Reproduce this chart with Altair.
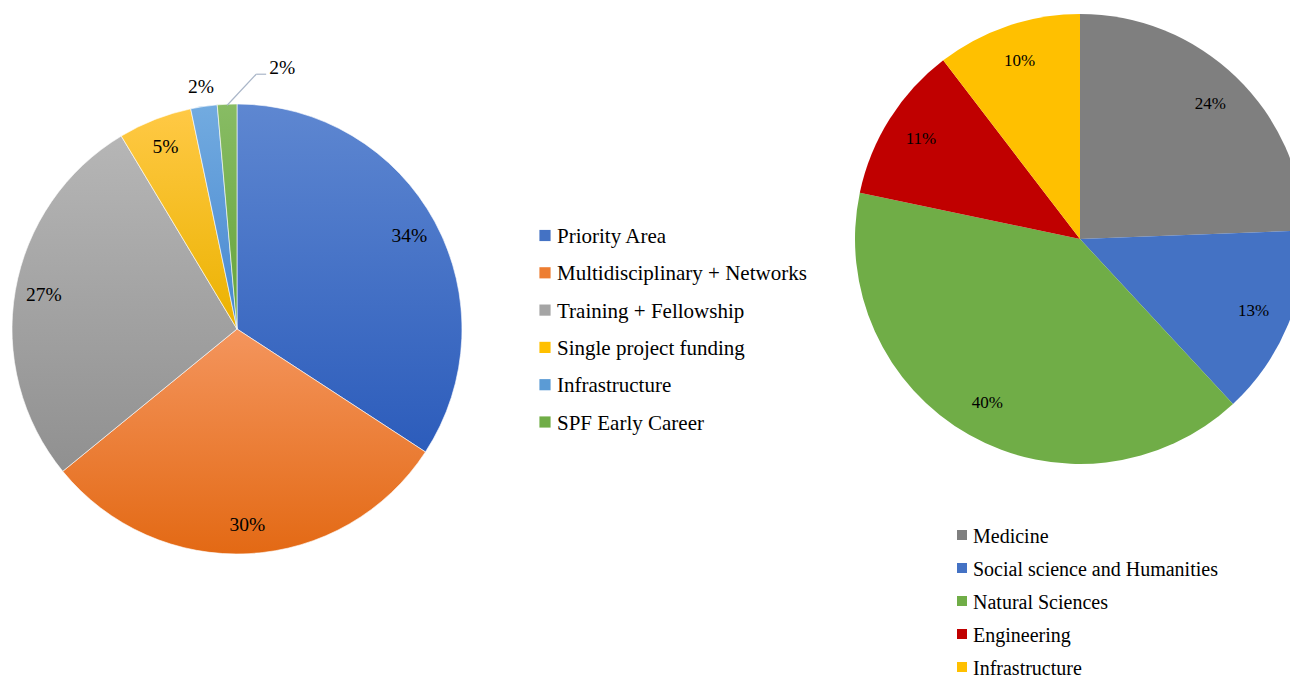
import math
import altair as alt
import pandas as pd

# ---------------- data ----------------
left_cats = ["Priority Area", "Multidisciplinary + Networks", "Training + Fellowship",
             "Single project funding", "Infrastructure", "SPF Early Career"]
left_vals = [34.2, 29.9, 27.3, 5.3, 1.9, 1.4]
left_labels = ["34%", "30%", "27%", "5%", "2%", "2%"]

right_cats = ["Medicine", "Social science and Humanities", "Natural Sciences",
              "Engineering", "Infrastructure"]
right_vals = [24.4, 13.7, 40.2, 11.3, 10.4]
right_labels = ["24%", "13%", "40%", "11%", "10%"]

# ---------------- styles ----------------
left_top = ["#5e87d1", "#f4955d", "#b6b6b6", "#ffc945", "#72abe0", "#88bc64"]
left_bot = ["#2c5cbb", "#e36914", "#909090", "#ebb200", "#4787d0", "#64a33a"]
left_flat = ["#4472c4", "#ed7d31", "#a5a5a5", "#ffc000", "#5b9bd5", "#70ad47"]
right_colors = ["#7f7f7f", "#4472c4", "#70ad47", "#c00000", "#ffc000"]

FONT = "Liberation Serif, Times New Roman, DejaVu Serif, serif"
LCX, LCY = 229, 321
RCX, RCY = 1072, 231
R = 225

left_df = pd.DataFrame({"cat": left_cats, "val": left_vals, "lab": left_labels,
                        "col": left_flat})
right_df = pd.DataFrame({"cat": right_cats, "val": right_vals, "lab": right_labels,
                         "col": right_colors})

theta_scale = alt.Scale(domain=[0, 100], range=[0, 2 * math.pi])


def base(df):
    return (alt.Chart(df)
            .transform_window(end="sum(val)", idx="row_number()", frame=[None, 0])
            .transform_calculate(start="datum.end - datum.val",
                                 mid="datum.end - datum.val / 2"))


bl = base(left_df)
br = base(right_df)

layers = []

# left pie: one layer per slice with a vertical gradient
for cat, top, bot in zip(left_cats, left_top, left_bot):
    grad = alt.Gradient(gradient="linear",
                        stops=[alt.GradientStop(color=top, offset=0),
                               alt.GradientStop(color=bot, offset=1)],
                        x1=0, x2=0, y1=0, y2=1)
    layers.append(
        bl.transform_filter(alt.datum.cat == cat)
        .mark_arc(outerRadius=R, color=grad, stroke="#ffffff", strokeWidth=0.6)
        .encode(theta=alt.Theta("start:Q", stack=None, scale=theta_scale),
                theta2="end:Q", x=alt.value(LCX), y=alt.value(LCY))
    )

# left labels inside
layers.append(
    bl.transform_filter("datum.val >= 3")
    .mark_text(radius=196, font=FONT, fontSize=19.5, color="#000000",
               align="center", baseline="middle")
    .encode(theta=alt.Theta("mid:Q", stack=None, scale=theta_scale),
            text="lab:N", x=alt.value(LCX), y=alt.value(LCY))
)
# Infrastructure label outside
layers.append(
    bl.transform_filter(alt.datum.cat == "Infrastructure")
    .mark_text(radius=245, font=FONT, fontSize=19.5, color="#000000",
               align="center", baseline="middle")
    .encode(theta=alt.Theta("mid:Q", stack=None, scale=theta_scale),
            text="lab:N", x=alt.value(LCX), y=alt.value(LCY))
)
# SPF label with leader line
spf = (bl.transform_filter(alt.datum.cat == "SPF Early Career")
       .transform_calculate(
           a="datum.mid / 100 * 2 * PI",
           ax=f"{LCX} + {R - 1} * sin(datum.a)",
           ay=f"{LCY} - {R - 1} * cos(datum.a)",
           ex="datum.ax + 29",
           ey="datum.ay - 31",
           hx="datum.ex + 10",
           tx="datum.hx + 3",
           ty="datum.ey - 6"))
layers.append(
    spf.mark_rule(color="#aab6c8", strokeWidth=1.2)
    .encode(x=alt.X("ax:Q", scale=None), y=alt.Y("ay:Q", scale=None),
            x2="ex:Q", y2="ey:Q")
)
layers.append(
    spf.mark_rule(color="#aab6c8", strokeWidth=1.2)
    .encode(x=alt.X("ex:Q", scale=None), y=alt.Y("ey:Q", scale=None),
            x2="hx:Q", y2="ey:Q")
)
layers.append(
    spf.mark_text(font=FONT, fontSize=19.5, color="#000000", align="left",
                  baseline="middle")
    .encode(x=alt.X("tx:Q", scale=None), y=alt.Y("ty:Q", scale=None), text="lab:N")
)

# right pie
layers.append(
    br.mark_arc(outerRadius=R, clip=True)
    .encode(theta=alt.Theta("start:Q", stack=None, scale=theta_scale),
            theta2="end:Q", color=alt.Color("col:N", scale=None),
            x=alt.value(RCX), y=alt.value(RCY))
)
layers.append(
    br.mark_text(radius=188, font=FONT, fontSize=17, color="#000000",
                 align="center", baseline="middle")
    .encode(theta=alt.Theta("mid:Q", stack=None, scale=theta_scale),
            text="lab:N", x=alt.value(RCX), y=alt.value(RCY))
)

# left legend
lleg = bl.transform_calculate(ly="227.5 + (datum.idx - 1) * 37.3")
layers.append(
    lleg.mark_square(size=125, opacity=1)
    .encode(x=alt.value(537), y=alt.Y("ly:Q", scale=None),
            color=alt.Color("col:N", scale=None))
)
layers.append(
    lleg.mark_text(font=FONT, fontSize=21, color="#000000", align="left",
                   baseline="middle", dy=1.5)
    .encode(x=alt.value(549), y=alt.Y("ly:Q", scale=None), text="cat:N")
)

# right legend
rleg = br.transform_calculate(ly="527 + (datum.idx - 1) * 33")
layers.append(
    rleg.mark_square(size=100, opacity=1)
    .encode(x=alt.value(954), y=alt.Y("ly:Q", scale=None),
            color=alt.Color("col:N", scale=None))
)
layers.append(
    rleg.mark_text(font=FONT, fontSize=20, color="#000000", align="left",
                   baseline="middle", dy=1.5)
    .encode(x=alt.value(965), y=alt.Y("ly:Q", scale=None), text="cat:N")
)

chart = (alt.layer(*layers)
         .properties(width=1282, height=672, padding=0,
                     autosize=alt.AutoSizeParams(type="none"),
                     background="#ffffff")
         .configure_view(strokeWidth=0))

chart.save("out.html", embed_options={"renderer": "svg", "actions": False})
